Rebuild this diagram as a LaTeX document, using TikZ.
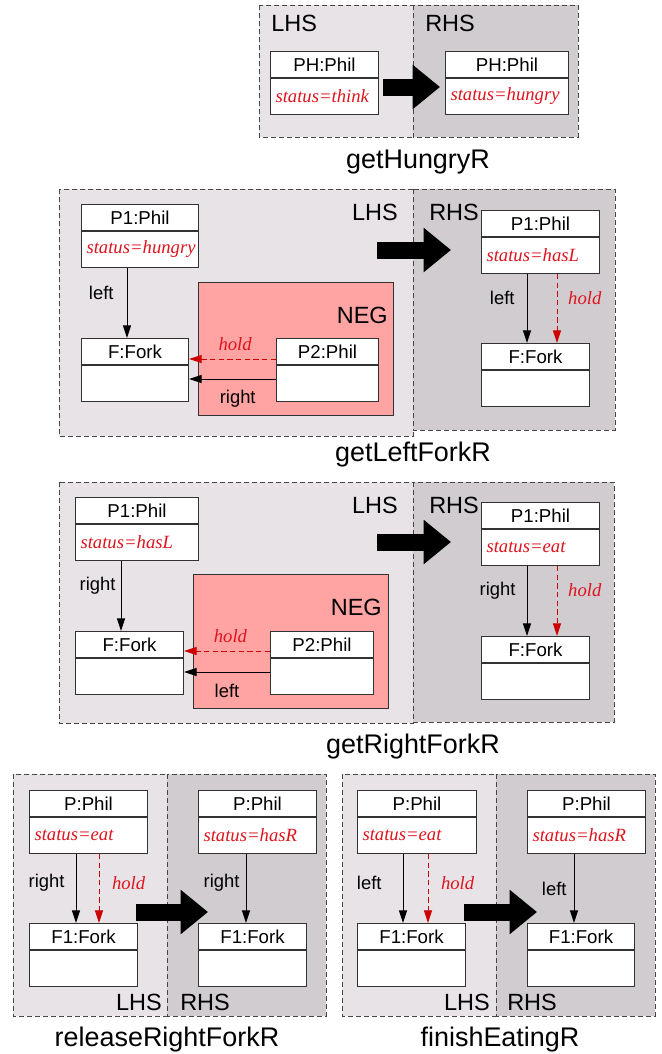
\documentclass[tikz,border=0pt]{standalone}
\usepackage{fontspec}
\setmainfont{Liberation Sans}
\newfontfamily\attrfont{Liberation Serif}
\usepackage{xcolor}
\usetikzlibrary{positioning}
\usetikzlibrary{arrows.meta}
\definecolor{lhsgray}{RGB}{231, 227, 231}
\definecolor{rhsgray}{RGB}{208, 204, 208}
\definecolor{negpink}{RGB}{255, 163, 163}
\definecolor{attrred}{RGB}{222, 20, 30}
\definecolor{holdred}{RGB}{204, 0, 0}
\definecolor{boxline}{RGB}{50, 50, 50}
\definecolor{panelline}{RGB}{70, 70, 70}

\newcommand{\objbox}[5]{%
    \pgfmathsetlengthmacro\objw{#3*0.75pt-7.5pt}%
    \node[objhead, text width=\objw, anchor=north west] (#1) at (#2) {#4};
    \node[objbody, text width=\objw, below=0pt of #1] (#1b) {#5};
}

\begin{document}
\begin{tikzpicture}[x=0.75pt, y=-0.75pt,
        objhead/.style={draw=boxline, fill=white, line width=0.75pt, inner xsep=3.75pt, inner ysep=0pt, minimum height=19.5pt, align=center, font=\fontsize{14}{16}\selectfont},
        objbody/.style={draw=boxline, fill=white, line width=0.75pt, inner xsep=3.75pt, inner ysep=0pt, minimum height=27pt, align=left, text=attrred, font=\attrfont\itshape\fontsize{14}{16}\selectfont},
        lhs/.style={fill=lhsgray, draw=panelline, line width=0.75pt, dash pattern=on 3.75pt off 2.25pt},
        rhs/.style={fill=rhsgray, draw=panelline, line width=0.75pt, dash pattern=on 3.75pt off 2.25pt},
        negbox/.style={fill=negpink, draw=boxline, line width=0.75pt},
        side/.style={font=\fontsize{17.6}{20}\selectfont, inner sep=0pt},
        rname/.style={font=\fontsize{20.2}{24}\selectfont, inner sep=0pt, anchor=base},
        lbl/.style={font=\fontsize{13.8}{16}\selectfont, inner sep=0pt},
        holdlbl/.style={font=\attrfont\itshape\fontsize{14}{16}\selectfont, text=attrred, inner sep=0pt},
        rel/.style={-{Triangle[length=9.5pt, width=6pt]}, line width=0.75pt},
        holdrel/.style={-{Triangle[length=9.5pt, width=6pt]}, line width=0.75pt, holdred, dash pattern=on 4pt off 2.5pt},
        bigarrow/.style={line width=12.75pt, -{Triangle[length=20.5pt, width=32pt]}}]
    \useasboundingbox (0, 0) rectangle (661, 1054);

    \draw[lhs] (259, 5) rectangle (413, 137);
    \draw[rhs] (413, 5) rectangle (578, 137);
    \node[side, anchor=base west] (hungryL) at (271, 31) {LHS};
    \node[side, anchor=base west] (hungryR) at (425, 31) {RHS};
    \objbox{hPH}{270, 51}{108}{PH:Phil}{status=think}
    \objbox{hPHr}{445, 51}{123}{PH:Phil}{status=hungry}
    \draw[bigarrow] (383, 87) -- (440, 87);
    \node[rname] (hungry) at (418, 168) {getHungryR};

    \draw[lhs] (59, 189) rectangle (413, 436);
    \draw[rhs] (413, 189) rectangle (615, 430);
    \node[side, anchor=base east] (leftL) at (398, 220) {LHS};
    \node[side, anchor=base west] (leftR) at (429, 220) {RHS};
    \draw[negbox] (198, 282) rectangle (393, 415);
    \node[side, anchor=base east] (leftNeg) at (388, 323) {NEG};
    \objbox{lP1}{81, 204}{117}{P1:Phil}{status=hungry}
    \objbox{lF}{81, 338}{107}{F:Fork}{}
    \objbox{lP2}{276, 338}{102}{P2:Phil}{}
    \draw[rel] (lP1b.south -| 127, 0) -- (lF.north -| 127, 0) node[lbl, pos=.35, left=9.75pt] {left};
    \draw[holdrel] (lP2.west |- 0, 359) -- (lF.east |- 0, 359) node[holdlbl, pos=.47, above=6pt] {hold};
    \draw[rel] (lP2b.west |- 0, 379) -- (lFb.east |- 0, 379) node[lbl, pos=.44, below=8pt] {right};
    \objbox{lP1r}{481, 210}{118}{P1:Phil}{status=hasL}
    \objbox{lFr}{481, 343}{108}{F:Fork}{}
    \draw[rel] (lP1rb.south -| 527, 0) -- (lFr.north -| 527, 0) node[lbl, pos=.35, left=9pt] {left};
    \draw[holdrel] (lP1rb.south -| 557, 0) -- (lFr.north -| 557, 0) node[holdlbl, pos=.35, right=8pt] {hold};
    \draw[bigarrow] (377, 250) -- (451, 250);
    \node[rname] (leftfork) at (413, 461) {getLeftForkR};

    \draw[lhs] (59, 482) rectangle (413, 723);
    \draw[rhs] (413, 482) rectangle (614, 722);
    \node[side, anchor=base east] (rightL) at (398, 513) {LHS};
    \node[side, anchor=base west] (rightR) at (429, 513) {RHS};
    \draw[negbox] (193, 574) rectangle (388, 708);
    \node[side, anchor=base east] (rightNeg) at (382, 615) {NEG};
    \objbox{gP1}{75, 497}{123}{P1:Phil}{status=hasL}
    \objbox{gF}{75, 631}{108}{F:Fork}{}
    \objbox{gP2}{270, 631}{103}{P2:Phil}{}
    \draw[rel] (gP1b.south -| 121, 0) -- (gF.north -| 121, 0) node[lbl, pos=.36, left=3.75pt] {right};
    \draw[holdrel] (gP2.west |- 0, 651) -- (gF.east |- 0, 651) node[holdlbl, pos=.46, above=6pt] {hold};
    \draw[rel] (gP2b.west |- 0, 672) -- (gFb.east |- 0, 672) node[lbl, pos=.5, below=9pt] {left};
    \objbox{gP1r}{481, 502}{118}{P1:Phil}{status=eat}
    \objbox{gFr}{481, 636}{108}{F:Fork}{}
    \draw[rel] (gP1rb.south -| 527, 0) -- (gFr.north -| 527, 0) node[lbl, pos=.35, left=8.25pt] {right};
    \draw[holdrel] (gP1rb.south -| 557, 0) -- (gFr.north -| 557, 0) node[holdlbl, pos=.35, right=8pt] {hold};
    \draw[bigarrow] (377, 542) -- (451, 542);
    \node[rname] (rightfork) at (413, 753) {getRightForkR};

    \draw[lhs] (13, 774) rectangle (167, 1016);
    \draw[rhs] (167, 774) rectangle (326, 1016);
    \node[side, anchor=base east] (releaseL) at (162, 1010) {LHS};
    \node[side, anchor=base west] (releaseR) at (180, 1010) {RHS};
    \objbox{eP}{29, 790}{118}{P:Phil}{status=eat}
    \objbox{eF}{29, 923}{108}{F1:Fork}{}
    \draw[rel] (ePb.south -| 76, 0) -- (eF.north -| 76, 0) node[lbl, pos=.42, left=8.25pt] {right};
    \draw[holdrel] (ePb.south -| 99, 0) -- (eF.north -| 99, 0) node[holdlbl, pos=.42, right=9.4pt] {hold};
    \objbox{ePr}{198, 790}{118}{P:Phil}{status=hasR}
    \objbox{eFr}{198, 923}{108}{F1:Fork}{}
    \draw[rel] (ePrb.south -| 246, 0) -- (eFr.north -| 246, 0) node[lbl, pos=.42, left=4.5pt] {right};
    \draw[bigarrow] (136, 912) -- (208, 912);
    \node[rname] (release) at (167, 1046) {releaseRightForkR};

    \draw[lhs] (342, 774) rectangle (496, 1016);
    \draw[rhs] (496, 774) rectangle (655, 1016);
    \node[side, anchor=base east] (finishL) at (490, 1010) {LHS};
    \node[side, anchor=base west] (finishR) at (507, 1010) {RHS};
    \objbox{fP}{357, 790}{119}{P:Phil}{status=eat}
    \objbox{fF}{357, 923}{108}{F1:Fork}{}
    \draw[rel] (fPb.south -| 403, 0) -- (fF.north -| 403, 0) node[lbl, pos=.42, left=15.75pt] {left};
    \draw[holdrel] (fPb.south -| 428, 0) -- (fF.north -| 428, 0) node[holdlbl, pos=.42, right=9.4pt] {hold};
    \objbox{fPr}{527, 790}{118}{P:Phil}{status=hasR}
    \objbox{fFr}{527, 923}{107}{F1:Fork}{}
    \draw[rel] (fPrb.south -| 574, 0) -- (fFr.north -| 574, 0) node[lbl, pos=.5, left=5.25pt] {left};
    \draw[bigarrow] (464, 912) -- (537, 912);
    \node[rname] (finish) at (500, 1046) {finishEatingR};
\end{tikzpicture}
\end{document}
